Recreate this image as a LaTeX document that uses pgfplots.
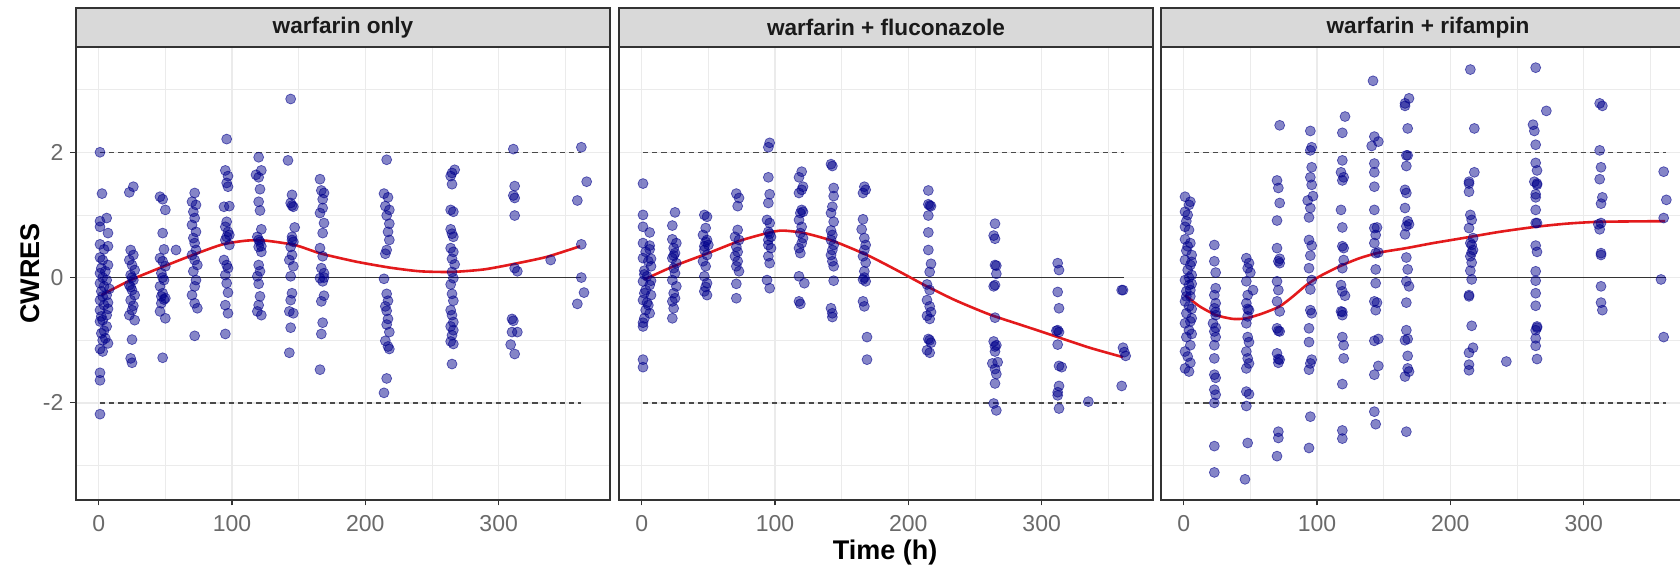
\documentclass[border=0pt]{standalone}
\usepackage{fontspec}
\setmainfont{Liberation Sans}
\usepackage{pgfplots}
\pgfplotsset{compat=1.18}
\definecolor{gridc}{HTML}{EBEBEB}
\definecolor{framec}{HTML}{333333}
\definecolor{stripfill}{HTML}{D9D9D9}
\definecolor{tickc}{HTML}{6A6A6A}
\definecolor{ptc}{HTML}{00008B}
\definecolor{smoothc}{HTML}{E31A1C}
\definecolor{dashc}{HTML}{4A4A4A}
\pgfplotsset{
  panel/.style={
    scale only axis, width=267pt, height=226.5pt,
    xmin=-17, xmax=383.5, ymin=-3.55, ymax=3.68,
    xtick={0,100,200,300}, xticklabels={0,100,200,300},
    ytick={-2,0,2},
    minor xtick={50,150,250,350}, minor ytick={-3,-1,1,3},
    grid=both,
    major grid style={gridc, line width=0.7pt},
    minor grid style={gridc, line width=0.35pt},
    axis line style={framec, line width=0.75pt},
    tick align=outside, major tick length=2.75pt, minor tick length=0pt,
    tick style={framec, line width=0.6pt},
    xtick pos=lower, ytick pos=left,
    ticklabel style={font=\fontsize{11.5}{13}\selectfont, text=tickc},
    xticklabel style={yshift=-1.5pt},
  },
  pts/.style={only marks, mark=*, mark size=2.5pt,
    mark options={draw=ptc, fill=ptc, fill opacity=0.48, draw opacity=0.6, line width=0.35pt}},
  zline/.style={framec, line width=0.65pt},
  dline/.style={dashc, line width=0.75pt, dash pattern=on 2.6pt off 2pt},
  smline/.style={smoothc, line width=1.3pt, smooth, tension=0.4},
}
\pgfplotstableread{
x y
1 2.0
2.5 1.34
6 0.95
1 0.9
1 0.81
7 0.71
1 0.53
7 0.5
1 0.32
3 0.28
7 0.2
1 0.07
3 0.0
6 -0.04
1 -0.09
4 -0.14
2 -0.22
6 -0.28
1 -0.36
4 -0.44
1 -0.52
6 -0.6
3 -0.68
6 -0.78
2 -0.89
5 -0.97
7 -1.05
1 -1.14
3 -1.18
1 -1.52
1 -1.64
1 -2.18
4 0.45
5 0.1
3 -0.3
7 -0.5
1 -0.7
4 -0.85
2 0.15
8 -0.18
7 -0.4
2 -0.62
3 -1.0
26 1.45
23 1.36
24 0.44
26 0.36
23 0.28
25 0.2
27 0.12
24 0.04
26 -0.04
23 -0.12
25 -0.2
27 -0.28
24 -0.36
25 -0.52
23 -0.6
27 -0.68
25 -0.99
24 -1.29
25 -1.36
26 -0.45
25 0.0
24 -0.15
46 1.29
48 1.25
50 1.08
48 0.71
49 0.45
58 0.44
46 0.31
48 0.26
50 0.18
47 0.07
49 -0.04
46 -0.14
48 -0.25
50 -0.33
47 -0.41
46 -0.54
50 -0.65
48 -1.28
48 0.0
47 -0.3
49 -0.35
72 1.35
70 1.21
73 1.16
71 1.05
72 0.95
70 0.84
73 0.73
71 0.63
72 0.55
73 0.44
70 0.36
72 0.28
74 0.2
71 0.1
73 -0.04
72 -0.14
70 -0.28
72 -0.41
74 -0.49
72 -0.93
96 2.21
95 1.71
97 1.62
96 1.51
97 1.45
94 1.13
98 1.14
96 0.89
95 0.81
97 0.73
96 0.65
98 0.52
94 0.28
96 0.2
97 0.15
95 0.04
96 -0.09
97 -0.24
95 -0.44
97 -0.57
95 -0.9
95 0.6
98 0.68
120 1.92
122 1.71
118 1.64
120 1.6
121 1.41
120 1.21
121 1.07
122 0.77
119 0.65
121 0.57
120 0.49
122 0.41
120 0.2
121 0.1
119 0.02
120 -0.1
121 -0.3
120 -0.44
119 -0.54
122 -0.6
120 0.6
122 0.5
144 2.85
142 1.87
145 1.32
144 1.19
146 1.13
147 0.8
145 0.65
146 0.57
144 0.49
145 0.36
143 0.28
146 0.18
144 0.02
145 -0.25
144 -0.36
143 -0.54
146 -0.57
144 -0.8
143 -1.2
145 1.15
145 0.6
166 1.57
167 1.39
169 1.35
168 1.11
166 1.03
169 0.87
168 0.71
166 0.47
168 0.34
167 0.15
169 0.07
166 -0.01
168 -0.06
169 -0.29
167 -0.38
168 -0.72
167 -0.9
166 -1.47
168 1.25
169 0.0
216 1.88
214 1.34
217 1.28
215 1.14
218 1.08
216 0.99
218 0.86
217 0.73
218 0.6
216 0.44
215 0.38
214 -0.02
216 -0.26
217 -0.37
215 -0.46
216 -0.53
217 -0.66
216 -0.75
218 -0.87
215 -1.01
217 -1.1
218 -1.14
216 -1.61
214 -1.84
267 1.72
265 1.67
264 1.62
265 1.49
264 1.08
266 1.05
264 0.77
265 0.7
266 0.65
264 0.47
266 0.41
265 0.3
267 0.21
265 0.09
266 -0.01
264 -0.11
265 -0.26
266 -0.37
264 -0.52
265 -0.6
266 -0.71
264 -0.78
266 -0.84
265 -0.92
264 -1.02
266 -1.06
265 -1.38
311 2.05
312 1.46
311 1.31
312 1.27
312 0.99
312 0.15
314 0.1
310 -0.66
311 -0.69
310 -0.87
314 -0.87
309 -1.07
312 -1.22
339 0.28
362 2.08
366 1.53
359 1.23
362 0.53
362 0.0
364 -0.24
359 -0.42
}\dataA
\pgfplotstableread{
x y
1 1.5
1 1.0
1 0.81
6 0.72
1 0.55
6 0.51
3 0.41
1 0.31
5 0.26
7 0.18
2 0.11
4 0.02
1 -0.06
6 -0.12
3 -0.2
7 -0.28
1 -0.36
5 -0.44
3 -0.52
6 -0.57
2 -0.65
1 -0.72
1 -0.78
1 -1.31
1 -1.43
6 0.45
7 0.3
7 -0.05
2 -0.25
4 -0.4
2 0.05
25 1.04
23 0.83
23 0.61
26 0.55
24 0.47
25 0.39
23 0.31
26 0.23
24 0.15
25 0.07
23 -0.04
26 -0.14
24 -0.25
25 -0.33
23 -0.38
24 -0.49
23 -0.65
24 0.35
47 1.0
49 0.97
48 0.79
46 0.68
48 0.57
50 0.52
47 0.44
49 0.36
46 0.26
48 0.18
47 0.02
49 -0.09
48 -0.15
47 -0.22
49 -0.28
49 0.6
47 0.5
71 1.34
73 1.27
72 1.14
72 0.76
70 0.65
73 0.6
71 0.49
72 0.41
70 0.34
72 0.26
71 0.18
73 0.1
71 -0.1
71 -0.33
96 2.15
95 2.08
95 1.6
96 1.33
95 1.19
94 0.92
96 0.87
95 0.73
97 0.65
95 0.52
97 0.47
95 0.34
96 0.23
94 -0.04
96 -0.17
96 0.7
95 0.6
120 1.69
118 1.6
121 1.45
118 1.35
120 1.08
119 1.03
118 0.92
120 0.81
119 0.71
121 0.63
120 0.55
118 0.47
119 0.39
118 0.02
122 -0.09
118 -0.38
119 -0.42
120 1.4
121 1.05
142 1.81
143 1.78
144 1.43
143 1.13
142 1.03
144 0.89
143 0.68
142 0.6
144 0.52
143 0.44
142 0.36
143 0.26
144 0.18
144 -0.05
142 -0.49
143 -0.57
143 -0.63
144 1.3
142 0.75
167 1.45
166 1.35
166 0.93
165 0.77
167 0.63
168 0.52
167 0.44
166 0.34
168 0.24
167 0.1
166 -0.03
168 -0.06
166 -0.38
167 -0.46
169 -0.95
169 -1.31
167 0.0
168 1.4
215 1.39
215 1.17
217 1.14
215 0.99
215 0.72
215 0.44
217 0.22
216 0.09
214 -0.11
216 -0.2
214 -0.36
216 -0.46
217 -0.55
214 -0.61
216 -0.66
215 -0.98
217 -1.04
214 -1.16
216 -1.2
216 -1.0
216 1.15
265 0.86
264 0.67
265 0.62
266 0.19
266 0.06
264 -0.14
265 -0.64
264 -1.02
266 -1.08
265 -1.18
263 -1.37
265 -1.46
266 -1.54
265 -1.69
264 -2.01
266 -2.12
265 -0.12
265 0.2
265 -1.1
267 -1.35
312 0.23
313 0.12
312 -0.23
313 -0.49
312 -0.84
313 -0.87
312 -1.07
313 -1.41
315 -1.43
313 -1.73
312 -1.83
312 -1.88
313 -2.09
311 -0.85
335 -1.98
360 -0.2
361 -0.2
361 -1.12
362 -1.19
363 -1.25
360 -1.73
}\dataB
\pgfplotstableread{
x y
1 1.29
5 1.21
4 1.16
1 1.05
3 1.0
1 0.81
4 0.76
1 0.61
5 0.55
2 0.43
6 0.36
1 0.28
5 0.2
3 0.12
6 0.04
1 -0.04
4 -0.12
2 -0.22
5 -0.3
1 -0.38
4 -0.46
2 -0.57
6 -0.65
1 -0.73
4 -0.84
2 -0.95
5 -1.08
1 -1.18
3 -1.26
5 -1.36
1 -1.45
4 -1.5
2 0.9
3 0.5
6 0.25
6 -0.1
2 -0.3
6 -0.5
5 -0.7
6 -0.9
4 0.0
5 -0.2
23 0.52
23 0.26
24 0.08
24 -0.17
23 -0.28
24 -0.41
23 -0.49
24 -0.6
22 -0.73
23 -0.86
24 -0.95
23 -1.08
23 -1.29
23 -1.55
24 -1.6
23 -1.79
24 -1.87
23 -2.0
23 -2.69
23 -3.11
24 -0.55
24 -0.8
47 0.31
49 0.23
48 0.15
50 0.08
47 -0.06
48 -0.28
47 -0.41
49 -0.52
48 -0.62
47 -0.73
48 -0.95
49 -1.03
47 -1.18
48 -1.29
49 -1.37
47 -1.45
47 -1.82
49 -1.86
47 -2.05
48 -2.64
46 -3.22
52 -0.2
48 -0.5
72 2.43
70 1.55
71 1.43
72 1.19
70 0.91
70 0.47
71 0.26
72 0.23
70 -0.06
71 -0.2
70 -0.38
72 -0.54
70 -0.81
72 -0.86
70 -1.21
72 -1.31
71 -1.36
71 -2.46
71 -2.56
70 -2.85
72 0.3
71 -0.85
71 -1.3
95 2.34
96 2.08
95 2.03
96 1.76
95 1.6
96 1.48
93 1.23
95 1.11
94 0.96
96 0.51
95 0.35
94 0.15
96 -0.04
95 -0.19
95 -0.52
96 -0.57
94 -0.81
94 -1.03
96 -1.31
95 -1.37
94 -1.47
95 -2.22
94 -2.72
97 1.3
94 0.6
121 2.57
119 2.31
119 1.87
118 1.68
119 1.55
118 1.08
119 0.8
120 0.47
120 0.28
119 0.15
118 -0.12
119 -0.22
121 -0.29
118 -0.54
119 -0.6
119 -0.95
120 -1.08
120 -1.29
119 -1.7
119 -2.44
119 -2.57
120 1.6
119 0.5
119 -0.55
142 3.14
143 2.25
146 2.17
141 2.1
143 1.82
143 1.68
143 1.45
143 1.08
143 0.79
144 0.68
143 0.55
144 0.39
144 0.13
144 -0.09
143 -0.38
144 -0.52
143 -1.01
146 -0.98
146 -1.41
143 -1.55
143 -2.14
144 -2.34
145 0.8
146 0.4
145 -0.4
169 2.86
166 2.74
168 2.38
167 1.95
167 1.78
167 1.35
166 1.11
168 0.9
167 0.82
166 0.69
167 0.32
168 0.13
167 -0.06
169 -0.14
167 -0.4
167 -0.84
168 -0.98
168 -1.25
168 -1.45
166 -1.58
167 -2.46
166 2.78
168 1.95
166 1.4
169 0.85
166 -1.0
169 -1.5
215 3.32
218 2.38
218 1.68
214 1.53
214 1.37
215 1.0
216 0.92
214 0.79
217 0.63
216 0.52
217 0.44
215 0.34
216 0.24
215 0.11
216 -0.03
214 -0.28
216 -0.77
217 -1.12
214 -1.2
214 -1.39
214 -1.48
214 1.5
215 0.55
216 0.4
214 -0.3
242 -1.34
264 3.35
272 2.66
262 2.44
263 2.34
264 2.12
264 1.83
265 1.71
263 1.53
265 1.48
264 1.33
264 1.28
264 1.08
264 0.87
264 0.51
265 0.41
264 0.1
264 -0.05
264 -0.25
264 -0.45
265 -0.78
264 -0.84
264 -0.97
264 -1.09
265 -1.3
265 0.87
265 1.5
265 -0.8
312 2.78
314 2.74
312 2.03
313 1.76
312 1.57
314 1.28
313 1.18
313 0.87
312 0.77
313 0.39
313 0.36
313 -0.14
313 -0.4
314 -0.52
311 0.85
360 1.69
362 1.24
360 0.95
358 -0.03
360 -0.95
}\dataC
\begin{document}
\begin{tikzpicture}
\useasboundingbox (-38pt,-36pt) rectangle (802pt,250pt);
% panel 1
\begin{axis}[panel, at={(0pt,0pt)}, anchor=south west, yticklabels={-2,0,2}]
\addplot[pts] table[x=x,y=y] {\dataA};
\addplot[zline] coordinates {(1,0) (362,0)};
\addplot[dline] coordinates {(1,2) (362,2)};
\addplot[dline] coordinates {(1,-2) (362,-2)};
\addplot[smline] coordinates {(2,-0.28) (25,-0.03) (49,0.18) (73,0.38) (93,0.53) (111,0.59) (125,0.59) (147,0.52) (164,0.4) (175,0.34) (194,0.25) (218,0.16) (241,0.1) (265,0.09) (289,0.13) (312,0.22) (336,0.33) (361,0.5)};
\end{axis}
% panel 2
\begin{axis}[panel, at={(271.5pt,0pt)}, anchor=south west, yticklabels={}, ytick style={draw=none}]
\addplot[pts] table[x=x,y=y] {\dataB};
\addplot[zline] coordinates {(1,0) (362,0)};
\addplot[dline] coordinates {(1,2) (362,2)};
\addplot[dline] coordinates {(1,-2) (362,-2)};
\addplot[smline] coordinates {(2,-0.03) (25,0.19) (50,0.39) (74,0.59) (96,0.72) (106,0.75) (122,0.71) (144,0.58) (170,0.35) (192,0.11) (213,-0.13) (235,-0.36) (261,-0.59) (288,-0.78) (312,-0.95) (336,-1.12) (361,-1.27)};
\end{axis}
% panel 3
\begin{axis}[panel, at={(542.5pt,0pt)}, anchor=south west, yticklabels={}, ytick style={draw=none}]
\addplot[pts] table[x=x,y=y] {\dataC};
\addplot[zline] coordinates {(1,0) (362,0)};
\addplot[dline] coordinates {(1,2) (362,2)};
\addplot[dline] coordinates {(1,-2) (362,-2)};
\addplot[smline] coordinates {(1,-0.28) (12,-0.46) (24.5,-0.6) (37,-0.66) (47,-0.65) (59.5,-0.57) (72,-0.46) (82,-0.3) (92,-0.12) (102,0.02) (117,0.18) (132,0.31) (147,0.4) (167,0.47) (187,0.55) (215,0.65) (237,0.73) (264,0.81) (287,0.86) (312,0.89) (361,0.9)};
\end{axis}
% strips
\foreach \xo/\lab in {0pt/{warfarin only}, 271.5pt/{warfarin + fluconazole}, 542.5pt/{warfarin + rifampin}} {
  \draw[framec, line width=0.75pt, fill=stripfill] (\xo,226.5pt) rectangle ++(267pt,19.5pt);
  \node[font=\fontsize{11.3}{13}\selectfont\bfseries, text={rgb,255:red,26;green,26;blue,26}] at ([xshift=133.5pt]\xo,236.25pt) {\lab};
}
\node[rotate=90, font=\fontsize{13.5}{16}\selectfont\bfseries] at (-23pt,113.25pt) {CWRES};
\node[font=\fontsize{13.5}{16}\selectfont\bfseries] at (404.5pt,-26.5pt) {Time (h)};
\end{tikzpicture}
\end{document}
